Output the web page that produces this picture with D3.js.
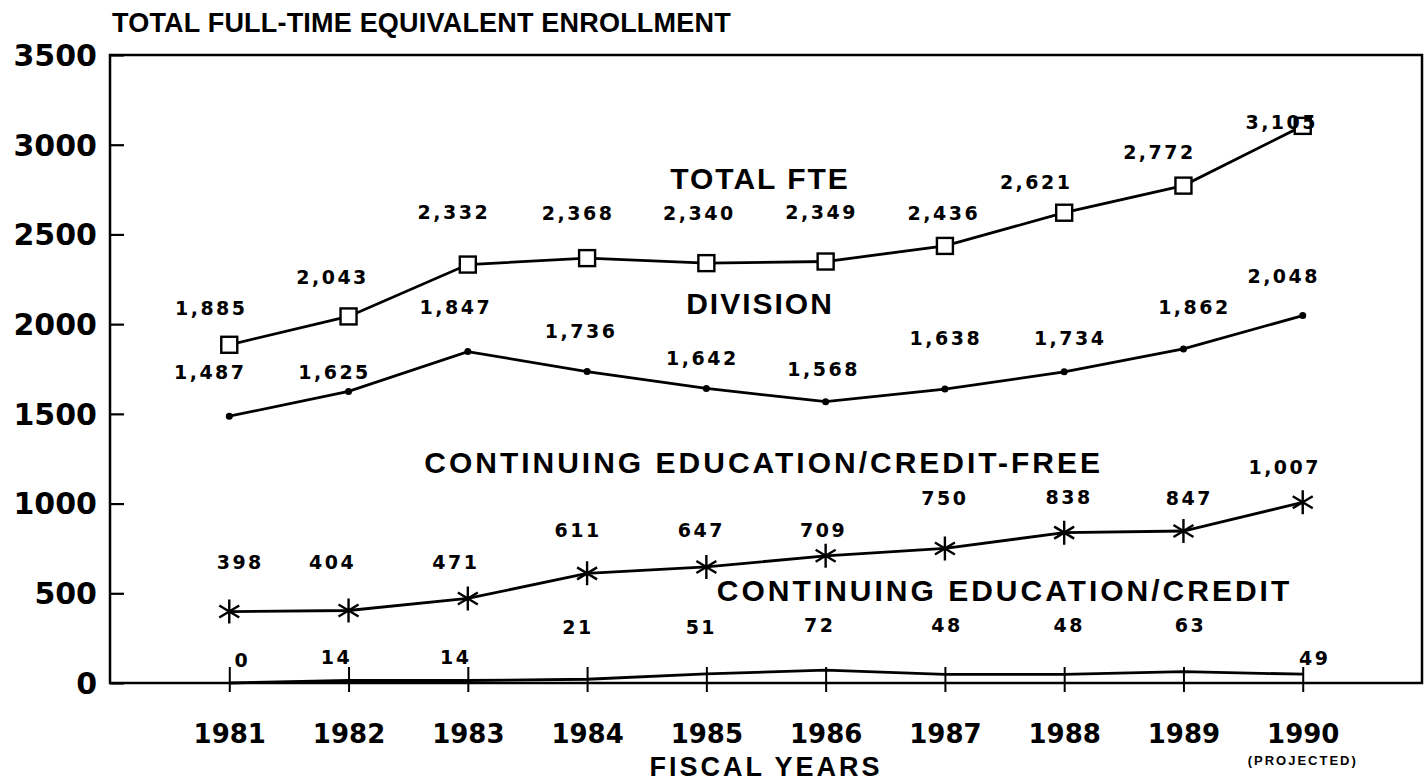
<!DOCTYPE html>
<html>
<head>
<meta charset="utf-8">
<script src="https://cdn.jsdelivr.net/npm/d3@7"></script>
<style>
	body { margin: 0; background: #fff; }
	text { font-weight: bold; fill: #000; }
</style>
</head>
<body>
<div id="chart"></div>
<script>
// fiscal years and the four enrollment series (FTE)
const years = ["1981", "1982", "1983", "1984", "1985", "1986", "1987", "1988", "1989", "1990"];
const totalFte = [1885, 2043, 2332, 2368, 2340, 2349, 2436, 2621, 2772, 3105];
const division = [1487, 1625, 1847, 1736, 1642, 1568, 1638, 1734, 1862, 2048];
const creditFree = [398, 404, 471, 611, 647, 709, 750, 838, 847, 1007];
const credit = [0, 14, 14, 21, 51, 72, 48, 48, 63, 49];
const yTicks = [0, 500, 1000, 1500, 2000, 2500, 3000, 3500];
const seriesNames = ["TOTAL FTE", "DIVISION", "CONTINUING EDUCATION/CREDIT-FREE", "CONTINUING EDUCATION/CREDIT"];

// layout only: where the value labels sit relative to their point (px)
const labelDx = [
	[-19, -17, -15, -10, -8, -5, -2, -29, -25, -22],
	[-20, -15, -13, -7, -5, -3, 0, 5, 10, -20],
	[10, -17, -13, -10, -6, -3, -1, 4, 5, -19],
	[12, -13, -13, -10, -6, -7, 1, 4, 6, 11]
];
const labelDy = [
	[-37, -39, -52, -45, -50, -49, -33, -31, -33, -4],
	[-44, -19, -44, -40, -30, -32, -51, -34, -42, -39],
	[-49, -48, -36, -43, -37, -26, -50, -35, -33, -35],
	[-23, -23, -23, -52, -47, -45, -49, -49, -47, -16]
];
// series name anchors in data units: [year index, value]
const nameAnchor = [[4.45, 2814], [4.45, 2118], [4.48, 1232], [6.5, 518]];
const nameSpacing = [2, 2, 3, 3];

const width = 1427;
const height = 783;
const margin = { top: 55, right: 5, bottom: 100, left: 110 };

const svg = d3.select("#chart")
	.append("svg")
		.attr("width", width)
		.attr("height", height);

const xScale = d3.scalePoint()
	.domain(years)
	.range([margin.left, width - margin.right])
	.padding(1);

const yScale = d3.scaleLinear()
	.domain([0, 3500])
	.range([height - margin.bottom, margin.top]);

const step = xScale.step();
const xAt = (i) => margin.left + step * (i + 1);

// frame
svg.append("rect")
	.attr("x", margin.left)
	.attr("y", yScale(3500))
	.attr("width", width - margin.right - margin.left)
	.attr("height", yScale(0) - yScale(3500))
	.attr("fill", "none")
	.attr("stroke", "#000")
	.attr("stroke-width", 2.5);

// y axis
const yAxis = svg.append("g")
	.attr("transform", `translate(${margin.left},0)`)
	.call(d3.axisRight(yScale).tickValues(yTicks).tickSize(14).tickFormat(""));
yAxis.select(".domain").remove();
yAxis.selectAll("line").attr("stroke-width", 2.2);

svg.append("g")
	.selectAll("text")
	.data(yTicks)
	.join("text")
		.attr("x", 97)
		.attr("y", d => yScale(d))
		.attr("dy", "0.36em")
		.attr("text-anchor", "end")
		.style("font-family", "'DejaVu Sans', sans-serif")
		.style("font-size", "30px")
		.text(d => d);

// x axis
const xAxis = svg.append("g")
	.attr("transform", `translate(0,${yScale(0)})`)
	.call(d3.axisBottom(xScale).tickSize(9).tickPadding(33));
xAxis.select(".domain").remove();
xAxis.selectAll(".tick line")
	.attr("y1", -16)
	.attr("stroke-width", 2);
xAxis.selectAll(".tick text")
	.style("font-family", "'DejaVu Sans', sans-serif")
	.style("font-size", "26px")
	.style("font-weight", "bold")
	.attr("fill", "#000");

svg.append("text")
	.attr("x", xScale("1985") + step / 2)
	.attr("y", 776)
	.attr("text-anchor", "middle")
	.style("font-family", "'Liberation Sans', Arial, sans-serif")
	.style("font-size", "27px")
	.style("letter-spacing", "3px")
	.text("FISCAL YEARS");

svg.append("text")
	.attr("x", xScale("1990"))
	.attr("y", 765)
	.attr("text-anchor", "middle")
	.style("font-family", "'Liberation Sans', Arial, sans-serif")
	.style("font-size", "13px")
	.style("letter-spacing", "2px")
	.text("(PROJECTED)");

// title
svg.append("text")
	.attr("x", 112)
	.attr("y", 32)
	.style("font-family", "'Liberation Sans', Arial, sans-serif")
	.style("font-size", "27px")
	.style("letter-spacing", "0.2px")
	.text("TOTAL FULL-TIME EQUIVALENT ENROLLMENT");

// lines
const allSeries = [totalFte, division, creditFree, credit];
const lineGenerator = d3.line()
	.x((d, i) => xScale(years[i]))
	.y(d => yScale(d));

allSeries.forEach(values => {
	svg.append("path")
		.datum(values)
		.attr("d", lineGenerator)
		.attr("fill", "none")
		.attr("stroke", "#000")
		.attr("stroke-width", 2.8);
});

// markers
svg.append("g")
	.selectAll("rect")
	.data(totalFte)
	.join("rect")
		.attr("x", (d, i) => xScale(years[i]) - 8)
		.attr("y", d => yScale(d) - 8)
		.attr("width", 16)
		.attr("height", 16)
		.attr("fill", "#fff")
		.attr("stroke", "#000")
		.attr("stroke-width", 2.4);

svg.append("g")
	.selectAll("circle")
	.data(division)
	.join("circle")
		.attr("cx", (d, i) => xScale(years[i]))
		.attr("cy", d => yScale(d))
		.attr("r", 3.5)
		.attr("fill", "#000");

svg.append("g")
	.selectAll("path")
	.data(creditFree)
	.join("path")
		.attr("transform", (d, i) => `translate(${xScale(years[i])},${yScale(d)})`)
		.attr("d", "M0,-12V12M-10,-6L10,6M-10,6L10,-6")
		.attr("stroke", "#000")
		.attr("stroke-width", 2.4);

// value labels
const fmt = d3.format(",");
allSeries.forEach((values, s) => {
	svg.append("g")
		.selectAll("text")
		.data(values)
		.join("text")
			.attr("x", (d, i) => xScale(years[i]) + labelDx[s][i] + 1)
			.attr("y", (d, i) => yScale(d) + labelDy[s][i])
			.attr("dy", "0.36em")
			.attr("text-anchor", "middle")
			.style("font-family", "'DejaVu Sans', sans-serif")
			.style("font-size", "19px")
			.style("letter-spacing", "2.5px")
			.text(d => fmt(d));
});

// series names
svg.append("g")
	.selectAll("text")
	.data(seriesNames)
	.join("text")
		.attr("x", (d, i) => xAt(nameAnchor[i][0]))
		.attr("y", (d, i) => yScale(nameAnchor[i][1]))
		.attr("dy", "0.36em")
		.attr("text-anchor", "middle")
		.style("font-family", "'Liberation Sans', Arial, sans-serif")
		.style("font-size", "30px")
		.style("letter-spacing", (d, i) => nameSpacing[i] + "px")
		.text(d => d);
</script>
</body>
</html>
